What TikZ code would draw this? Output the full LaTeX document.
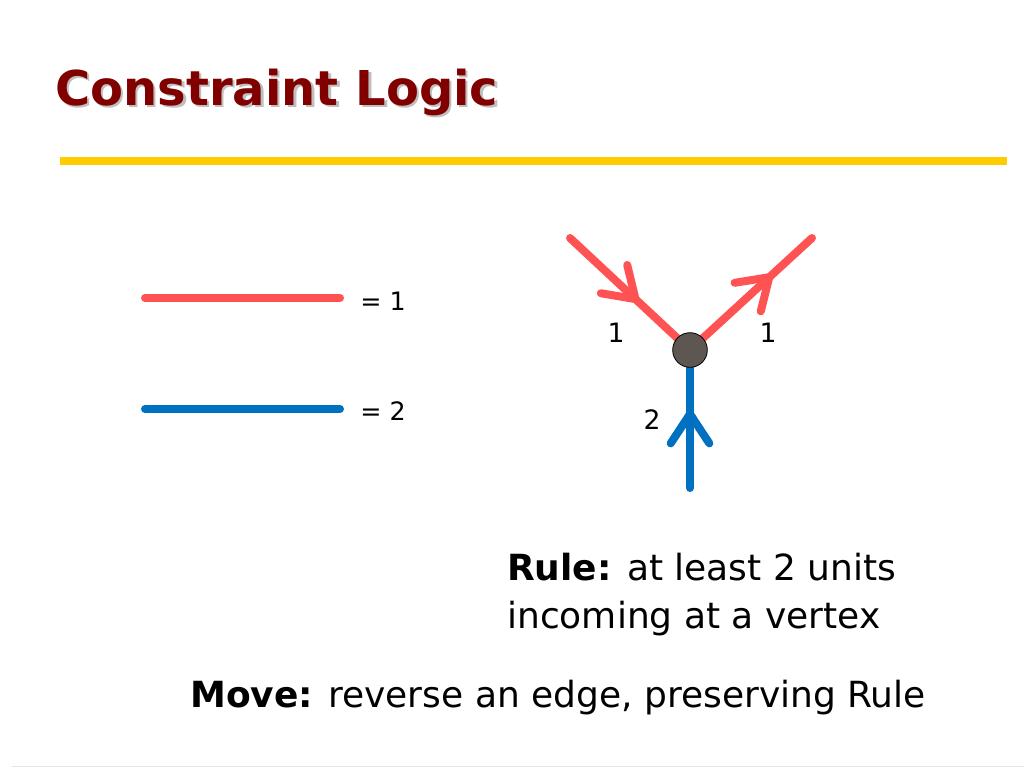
\documentclass[tikz,border=0pt]{standalone}
\usepackage{fontspec}
\setmainfont{DejaVu Sans}
\usetikzlibrary{arrows.meta,decorations.markings}
\definecolor{edgered}{HTML}{FF5353}
\definecolor{edgeblue}{HTML}{0070C0}
\definecolor{titlered}{HTML}{800000}
\definecolor{baryellow}{HTML}{FFCC00}
\definecolor{vertexgray}{HTML}{5E5650}
\tikzset{
  redge/.style={line width=6pt, line cap=round, edgered},
  bedge/.style={line width=6pt, line cap=round, edgeblue},
  chev/.style={postaction={decorate}, decoration={markings,
      mark=at position #1 with {\arrow{Straight Barb[round, length=22pt, width=29pt]}}}},
  vertex/.style={circle, draw=black, line width=0.6pt, fill=vertexgray, minimum size=26pt, inner sep=0pt},
  lbl/.style={inner sep=0pt, font=\fontsize{20}{24}\selectfont},
  body/.style={inner sep=0pt, anchor=base west, font=\fontsize{27}{32}\selectfont}
}

\begin{document}
\begin{tikzpicture}[x=0.75pt, y=-0.75pt]
		%%%%% START %%%%%
		\useasboundingbox[fill=white] (0, 0) rectangle (1024, 768);
		
		% title
		\node[inner sep=0pt, anchor=base west, black!25, font=\fontsize{36}{44}\selectfont\bfseries] (shadow) at (57.5, 107.5) {Constraint Logic};
		\node[inner sep=0pt, anchor=base west, titlered, font=\fontsize{36}{44}\selectfont\bfseries] (title) at (55, 105) {Constraint Logic};
		\fill[baryellow] (60, 157) rectangle (1007, 165);
		
		% legend
		\coordinate (r1) at (145, 298);
		\coordinate (r2) at (340, 298);
		\coordinate (b1) at (145, 409);
		\coordinate (b2) at (340, 409);
		\draw[redge] (r1) -- (r2);
		\draw[bedge] (b1) -- (b2);
		\node[anchor=west, inner sep=0pt, font=\fontsize{19}{23}\selectfont] (eqone) at (360, 301) {= 1};
		\node[anchor=west, inner sep=0pt, font=\fontsize{19}{23}\selectfont] (eqtwo) at (360, 411) {= 2};
		
		% vertex with three edges
		\coordinate (v) at (690, 350);
		\coordinate (lt) at (570, 238);
		\coordinate (rt) at (812, 238);
		\coordinate (bt) at (690, 488);
		\draw[redge, chev=0.57] (lt) -- (v);
		\draw[redge, chev=0.675] (v) -- (rt);
		\draw[bedge, chev=0.565] (bt) -- (v);
		\node[vertex] (vx) at (v) {};
		\node[lbl] (wl) at (616, 333) {1};
		\node[lbl] (wr) at (768, 333) {1};
		\node[lbl] (wb) at (652, 420) {2};
		
		% rule and move
		\node[body] (rule) at (507, 580) {\textbf{Rule:} at least 2 units};
		\node[body] (rule2) at (507, 628) {incoming at a vertex};
		\node[body] (move) at (190, 707) {\textbf{Move:} reverse an edge, preserving Rule};
		
		\draw[black!10, line width=0.75pt] (12, 766.5) -- (1024, 766.5);
		%%%%% END %%%%%
\end{tikzpicture}
\end{document}
